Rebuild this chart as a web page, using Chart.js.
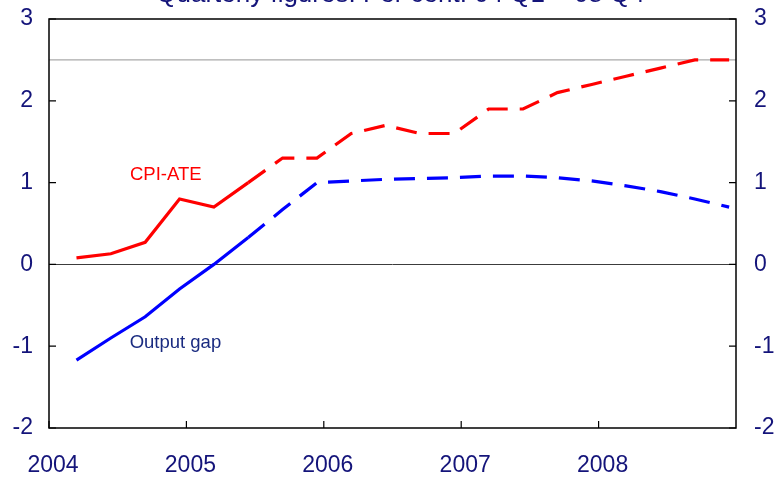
<!DOCTYPE html>
<html>
<head>
<meta charset="utf-8">
<script src="https://cdn.jsdelivr.net/npm/chart.js@4.4.1/dist/chart.umd.min.js"></script>
<style>
  html, body { margin: 0; padding: 0; background: #fff; }
  canvas { display: block; }
</style>
</head>
<body>
<canvas id="grafico" width="777" height="478"></canvas>
<script>
// Datos trimestrales 2004 T1 - 2008 T4
const quarters = [
  '2004 Q1', '2004 Q2', '2004 Q3', '2004 Q4',
  '2005 Q1', '2005 Q2', '2005 Q3', '2005 Q4',
  '2006 Q1', '2006 Q2', '2006 Q3', '2006 Q4',
  '2007 Q1', '2007 Q2', '2007 Q3', '2007 Q4',
  '2008 Q1', '2008 Q2', '2008 Q3', '2008 Q4'
];
const cpiAte = [0.08, 0.13, 0.27, 0.8, 0.7, 1.0, 1.3, 1.3, 1.6, 1.7, 1.6, 1.6, 1.9, 1.9, 2.1, 2.2, 2.3, 2.4, 2.5, 2.5];
const outputGap = [-1.17, -0.9, -0.64, -0.3, 0.0, 0.33, 0.67, 1.0, 1.02, 1.04, 1.05, 1.06, 1.08, 1.08, 1.06, 1.02, 0.96, 0.89, 0.8, 0.7];
const firstProjected = 5;          // desde 2005 Q2 la linea es discontinua
const inflationTarget = 2.5;
const yearTicks = [2004, 2005, 2006, 2007, 2008];
const valueTicks = [-2, -1, 0, 1, 2, 3];

const navy = '#14147a';
const fontFamily = '"Liberation Sans", Arial, sans-serif';

// posicion en el eje de tiempo de cada trimestre
function quarterX(q) {
    const [year, n] = q.split(' Q');
    return Number(year) + (Number(n) - 1) / 4 + 0.2;
}

function toPoints(values) {
    return quarters.map((q, i) => ({ x: quarterX(q), y: values[i] }));
}

const dashed = ctx => ctx.p0DataIndex >= firstProjected ? [21, 12] : undefined;

// marco, marcas hacia dentro, titulo y etiquetas
const marcoPlugin = {
    id: 'marco',
    afterDatasetsDraw(chart) {
        const { ctx, chartArea: a, scales } = chart;
        const x = scales.x, y = scales.y;
        ctx.save();
        ctx.strokeStyle = '#000';
        ctx.lineWidth = 1.5;
        ctx.strokeRect(a.left, a.top, a.right - a.left, a.bottom - a.top);

        ctx.lineWidth = 1.2;
        ctx.beginPath();
        valueTicks.forEach(v => {
            const py = y.getPixelForValue(v);
            ctx.moveTo(a.left, py); ctx.lineTo(a.left + 7, py);
            ctx.moveTo(a.right, py); ctx.lineTo(a.right - 7, py);
        });
        yearTicks.forEach(v => {
            const px = x.getPixelForValue(v);
            ctx.moveTo(px, a.bottom); ctx.lineTo(px, a.bottom - 7);
        });
        ctx.stroke();

        ctx.textAlign = 'center';
        ctx.textBaseline = 'alphabetic';
        ctx.fillStyle = navy;
        ctx.font = '26px ' + fontFamily;
        ctx.fillText('Quarterly figures. Per cent. 04 Q1 \u2013 08 Q4', (a.left + a.right) / 2 + 8, 2);

        ctx.textBaseline = 'middle';
        ctx.font = '18.5px ' + fontFamily;
        ctx.fillStyle = '#ff0000';
        ctx.fillText('CPI-ATE', x.getPixelForValue(2004.85), y.getPixelForValue(1.1));
        ctx.fillStyle = '#1a2b80';
        ctx.fillText('Output gap', x.getPixelForValue(2004.92), y.getPixelForValue(-0.96));
        ctx.restore();
    }
};

const tickFont = { family: fontFamily, size: 23 };

function fitVertical(width) {
    return s => { s.width = width; s.paddingTop = 0; s.paddingBottom = 0; };
}

new Chart(document.getElementById('grafico').getContext('2d'), {
    type: 'line',
    data: {
        datasets: [
            {
                label: 'CPI-ATE',
                data: toPoints(cpiAte),
                borderColor: '#ff0000',
                borderWidth: 3.2,
                pointRadius: 0,
                tension: 0,
                segment: { borderDash: dashed }
            },
            {
                label: 'Output gap',
                data: toPoints(outputGap),
                borderColor: '#0000ff',
                borderWidth: 3.2,
                pointRadius: 0,
                tension: 0,
                segment: { borderDash: dashed }
            },
            {
                label: 'Inflation target',
                data: [{ x: 2004, y: inflationTarget }, { x: 2009, y: inflationTarget }],
                borderColor: '#aaaaaa',
                borderWidth: 1.3,
                pointRadius: 0
            }
        ]
    },
    options: {
        responsive: false,
        animation: false,
        layout: { padding: { top: 19, left: 0, right: 0, bottom: 0 } },
        plugins: {
            legend: { display: false },
            tooltip: { enabled: false },
            title: { display: false }
        },
        scales: {
            x: {
                type: 'linear',
                min: 2004,
                max: 2009,
                afterBuildTicks: s => { s.ticks = yearTicks.map(v => ({ value: v })); },
                afterFit: s => { s.height = 50; s.paddingLeft = 0; s.paddingRight = 0; },
                grid: { display: false, drawTicks: false },
                border: { display: false },
                ticks: {
                    color: navy,
                    font: tickFont,
                    padding: 24,
                    labelOffset: 4,
                    maxRotation: 0,
                    autoSkip: false,
                    callback: v => String(v)
                }
            },
            y: {
                position: 'left',
                min: -2,
                max: 3,
                afterBuildTicks: s => { s.ticks = valueTicks.map(v => ({ value: v })); },
                afterFit: fitVertical(49),
                grid: {
                    drawTicks: false,
                    color: c => c.tick && c.tick.value === 0 ? '#3c3c3c' : 'rgba(0,0,0,0)',
                    lineWidth: 1
                },
                border: { display: false },
                ticks: { color: navy, font: tickFont, padding: 16 }
            },
            y2: {
                position: 'right',
                min: -2,
                max: 3,
                afterBuildTicks: s => { s.ticks = valueTicks.map(v => ({ value: v })); },
                afterFit: fitVertical(41),
                grid: { display: false, drawTicks: false },
                border: { display: false },
                ticks: { color: navy, font: tickFont, padding: 18 }
            }
        }
    },
    plugins: [marcoPlugin]
});
</script>
</body>
</html>
